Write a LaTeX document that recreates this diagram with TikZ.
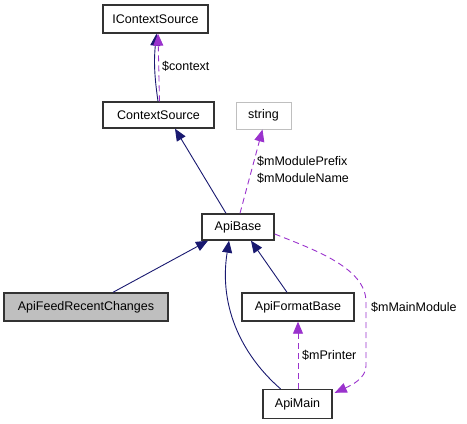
\documentclass[tikz,border=0pt]{standalone}
\usepackage{fontspec}
\setmainfont{Liberation Sans}
\usetikzlibrary{arrows.meta}
\definecolor{navyline}{HTML}{191970}
\definecolor{orchidline}{HTML}{9A32CD}
\definecolor{grayfill}{HTML}{BFBFBF}
\begin{document}
\begin{tikzpicture}[x=1pt,y=-1pt,
  font=\fontsize{12.5}{17}\selectfont,
  box/.style={draw=black!80, line width=1.4pt, fill=white, inner sep=0pt, align=center},
  lightbox/.style={draw=black!25, line width=1pt, fill=white, inner sep=0pt},
  inh/.style={draw=navyline, line width=0.9pt, -{Triangle[length=12pt,width=10pt]}},
  use/.style={draw=orchidline, line width=0.9pt, dash pattern=on 6pt off 4pt, -{Triangle[length=12pt,width=10pt]}},
  lbl/.style={anchor=west, inner sep=0pt, align=left}]
\useasboundingbox (0,0) rectangle (467,424);

\node[box, minimum width=105pt, minimum height=28pt] (ics) at (155.5,19) {IContextSource};
\node[box, minimum width=111pt, minimum height=26pt] (cs) at (158.5,115) {ContextSource};
\node[lightbox, minimum width=55pt, minimum height=27pt] (str) at (263.5,115.5) {string};
\node[box, minimum width=72pt, minimum height=26pt] (ab) at (238,227) {ApiBase};
\node[box, fill=grayfill, minimum width=164pt, minimum height=28pt] (afrc) at (86,307) {ApiFeedRecentChanges};
\node[box, minimum width=112pt, minimum height=28pt] (afb) at (298,307) {ApiFormatBase};
\node[box, minimum width=69pt, minimum height=29pt] (am) at (297.5,404) {ApiMain};

% ContextSource -> IContextSource (inheritance + usage)
\draw[inh] ([shift={(-0.5,0)}]cs.north) to[bend left=7] ([shift={(1,0)}]ics.south);
\draw[use] ([shift={(1,0)}]cs.north) -- ([shift={(2.5,0)}]ics.south);
\node[lbl] (lctx) at (162,66) {\$context};

% ApiBase -> ContextSource
\draw[inh] ([shift={(-12,0)}]ab.north) -- ([shift={(16.5,0)}]cs.south);
% ApiBase -> string
\draw[use] ([shift={(2,0)}]ab.north) -- ([shift={(-1,0)}]str.south);
\node[lbl] (lmod) at (257,170) {\$mModulePrefix\\\$mModuleName};

% ApiFeedRecentChanges -> ApiBase
\draw[inh] ([shift={(27,0)}]afrc.north) -- ([shift={(-30,0)}]ab.south);
% ApiMain -> ApiBase
\draw[inh] ([shift={(-17,0)}]am.north) .. controls (245,358) and (218,310) .. ([shift={(-9,0)}]ab.south);
% ApiFormatBase -> ApiBase
\draw[inh] ([shift={(-11,0)}]afb.north) -- ([shift={(13,0)}]ab.south);

% ApiMain -> ApiFormatBase
\draw[use] ([shift={(0.5,0)}]am.north) -- (afb.south);
\node[lbl] (lprn) at (302,355) {\$mPrinter};

% ApiBase -> ApiMain
\draw[use] ([shift={(0,7)}]ab.east) .. controls (315,250) and (366,268) .. (366,302) -- (366,366) .. controls (366,378) and (352,385) .. ([shift={(2,4)}]am.north east);
\node[lbl] (lmain) at (371,307) {\$mMainModule};
\end{tikzpicture}
\end{document}
